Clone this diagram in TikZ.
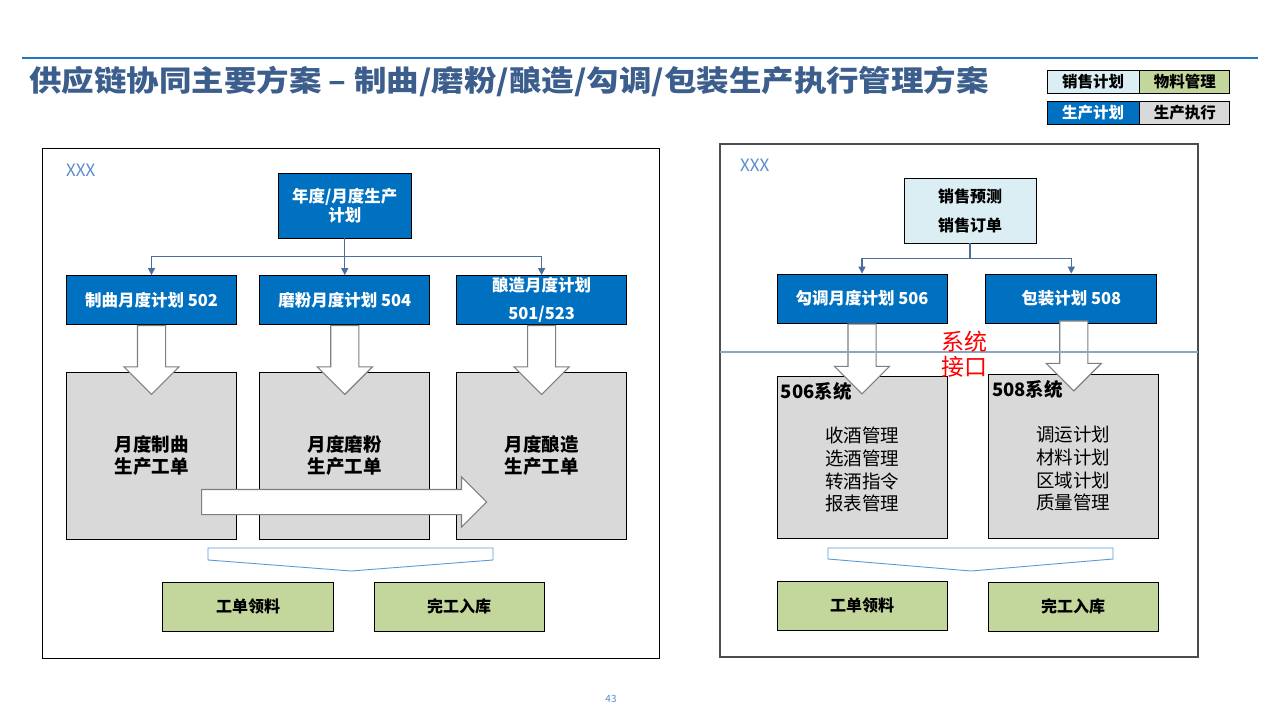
\documentclass[tikz,border=0pt]{standalone}
\usepackage{fontspec}
\setmainfont{Noto Sans CJK SC}
\usetikzlibrary{arrows.meta,positioning,calc,shapes.arrows}

\definecolor{planblue}{HTML}{0070C0}
\definecolor{saleblue}{HTML}{DAEEF3}
\definecolor{workgray}{HTML}{D9D9D9}
\definecolor{matgreen}{HTML}{C3D69B}
\definecolor{linkblue}{HTML}{4A6EA0}
\definecolor{titleblue}{HTML}{3B5E8C}
\definecolor{ruleblue}{HTML}{1F77C8}
\definecolor{tagblue}{HTML}{5B8BD0}
\definecolor{chevblue}{HTML}{5B9BD5}
\definecolor{sepblue}{HTML}{8EA4C2}
\definecolor{arrowgray}{HTML}{7F7F7F}

\begin{document}
\begin{tikzpicture}[x=1pt, y=-1pt, >=Latex,
  box/.style={draw=black, line width=0.8pt, inner sep=0pt, align=center,
    minimum width=170pt, minimum height=49pt},
  planbox/.style={box, fill=planblue, text=white, font=\bfseries\fontsize{16.5}{19}\selectfont},
  salebox/.style={box, fill=saleblue, font=\bfseries\fontsize{16}{29}\selectfont},
  workbox/.style={box, fill=workgray, minimum height=164pt},
  matbox/.style={box, fill=matgreen, font=\bfseries\fontsize{16}{19}\selectfont},
  legendbox/.style={draw=black, line width=0.8pt, inner sep=0pt, minimum width=92pt,
    minimum height=23pt, font=\bfseries\fontsize{15.5}{18}\selectfont},
  link/.style={draw=linkblue, line width=1.3pt, -{Triangle[length=7pt,width=7pt]}},
  fatarrow/.style={single arrow, draw=arrowgray, fill=white, line width=1.1pt,
    single arrow head extend=13.5pt, inner sep=13.5pt, minimum height=69pt},
  panel/.style={draw=black, line width=0.9pt},
  tag/.style={text=tagblue, font=\fontsize{17}{19}\selectfont, anchor=west, inner sep=0pt},
  chevron/.style={draw=chevblue, fill=white, line width=0.9pt}
]
  \useasboundingbox[fill=white] (0,0) rectangle (1280,720);

  % header
  \draw[ruleblue, line width=1.2pt] (22,58) -- (1258,58);
  \node[anchor=west, inner sep=0pt, text=titleblue, font=\bfseries\fontsize{29}{34}\selectfont]
    (title) at (29,82) {\scalebox{1.12}[1]{供应链协同主要方案 – 制曲/磨粉/酿造/勾调/包装生产执行管理方案}};

  % legend
  \node[legendbox, fill=saleblue] (lgsale) at (1093,81.5) {销售计划};
  \node[legendbox, fill=matgreen, minimum width=90pt, right=0pt of lgsale] (lgmat) {物料管理};
  \node[legendbox, fill=planblue, text=white] (lgplan) at (1093,112.5) {生产计划};
  \node[legendbox, fill=workgray, minimum width=90pt, right=0pt of lgplan] (lgwork) {生产执行};

  % left panel
  \draw[panel] (42,148) rectangle (659,658);
  \node[tag] (tagl) at (66,170) {XXX};

  \node[planbox, minimum width=133pt, minimum height=65pt] (plan) at (344.75,205.5)
    {年度/月度生产\\计划};
  \node[planbox] (m1) at (151.5,300) {制曲月度计划 502};
  \node[planbox, right=22.5pt of m1] (m2) {磨粉月度计划 504};
  \node[planbox, font=\bfseries\fontsize{16.5}{28}\selectfont, right=26pt of m2] (m3)
    {酿造月度计划\\501/523};

  \draw[link] (plan.south) -- ++(0,18) -| (m1.north);
  \draw[link] (plan.south) -- ++(0,18) -| (m3.north);
  \draw[link] (plan.south) -- (plan.south |- m2.north);

  \node[workbox, font=\bfseries\fontsize{18.5}{22}\selectfont, minimum height=167pt,
    below=47pt of m1] (g1) {月度制曲\\生产工单};
  \node[workbox, font=\bfseries\fontsize{18.5}{22}\selectfont, minimum height=167pt,
    below=47pt of m2] (g2) {月度磨粉\\生产工单};
  \node[workbox, font=\bfseries\fontsize{18.5}{22}\selectfont, minimum height=167pt,
    below=47pt of m3] (g3) {月度酿造\\生产工单};

  % plan to order
  \foreach \i in {1,2,3}
    \node[fatarrow, shape border rotate=270, anchor=tail] (d\i) at (m\i.south) {};

  % order flow
  \node[fatarrow, inner sep=12pt, single arrow head extend=12.5pt, minimum height=285pt,
    anchor=tail] (flow) at (201,502) {};

  \draw[chevron] (208,548) -- (493,548) -- (493,560) -- (351,571) -- (208,560) -- cycle;
  \node[matbox, minimum width=171pt] (k1) at (248,606.5) {工单领料};
  \node[matbox] (k2) at (459,606.5) {完工入库};

  % right panel
  \draw[panel, draw=black!70, line width=1.2pt] (720,144) rectangle (1198,657);
  \node[tag] (tagr) at (740,165) {XXX};

  \node[salebox, minimum width=132pt, minimum height=65pt] (sale) at (970,210.5)
    {销售预测\\销售订单};
  \node[planbox] (b1) at (862,298.5) {勾调月度计划 506};
  \node[planbox, minimum width=171pt, right=38pt of b1] (b2) {包装计划 508};

  \draw[link] (sale.south) -- ++(0,15) -| (b1.north);
  \draw[link] (sale.south) -- ++(0,15) -| (b2.north);

  \node[workbox, minimum height=162pt, below=53pt of b1] (s1) {};
  \node[workbox, below=51pt of b2, xshift=2pt] (s2) {};
  \node[anchor=north west, inner sep=0pt, font=\bfseries\fontsize{18.5}{20}\selectfont]
    (s1name) at ($(s1.north west)+(4,6)$) {506系统};
  \node[anchor=north west, inner sep=0pt, font=\bfseries\fontsize{18.5}{20}\selectfont]
    (s2name) at ($(s2.north west)+(4,6)$) {508系统};
  \node[align=left, font=\fontsize{18.5}{22.7}\selectfont] (s1list) at ($(s1.center)+(0,12)$)
    {收酒管理\\选酒管理\\转酒指令\\报表管理};
  \node[align=left, font=\fontsize{18.5}{22.7}\selectfont] (s2list) at ($(s2.center)+(0,12)$)
    {调运计划\\材料计划\\区域计划\\质量管理};

  % system interface
  \node[fatarrow, shape border rotate=270, anchor=tail, minimum height=70pt] (e1) at (b1.south) {};
  \node[fatarrow, shape border rotate=270, anchor=tail, minimum height=70pt,
    yshift=3pt] (e2) at ($(b2.south)+(2.5,0)$) {};
  \draw[sepblue, line width=1.2pt] (720,352) -- (1198,352);
  \node[text=red, align=center, inner sep=0pt, font=\fontsize{23}{25}\selectfont]
    (iface) at (964.5,354.5) {系统\\接口};

  \draw[chevron] (828,548) -- (1113,548) -- (1113,559) -- (971,571) -- (828,559) -- cycle;
  \node[matbox] (k3) at (862,605.5) {工单领料};
  \node[matbox] (k4) at (1073,606.5) {完工入库};

  % page number
  \node[text=tagblue, font=\fontsize{10}{12}\selectfont] (page) at (611,699) {43};
\end{tikzpicture}
\end{document}
